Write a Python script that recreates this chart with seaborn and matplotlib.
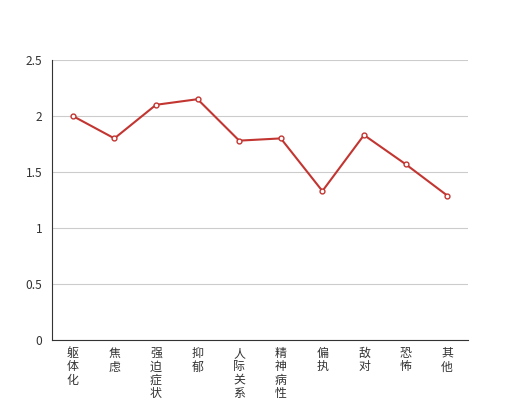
import matplotlib
matplotlib.use("Agg")
import matplotlib.pyplot as plt
from matplotlib.ticker import FixedLocator, FuncFormatter
import seaborn as sns

# --- data ---
categories = ["躯体化", "焦虑", "强迫症状", "抑郁", "人际关系敏感",
              "精神病性", "偏执", "敌对", "恐怖", "其他"]
scores = [2.0, 1.8, 2.1, 2.15, 1.78, 1.8, 1.33, 1.83, 1.57, 1.29]
y_ticks = [0, 0.5, 1, 1.5, 2, 2.5]

sns.set_style("white")
plt.rcParams["font.family"] = ["Noto Sans CJK SC", "DejaVu Sans"]

fig = plt.figure(figsize=(5.2, 4.0), dpi=100)
ax = fig.add_axes([52 / 520, 60 / 400, 416 / 520, 280 / 400])

line_color = "#c23531"
sns.lineplot(x=categories, y=scores, ax=ax, color=line_color, linewidth=1.5,
             marker="o", markersize=3.5, markerfacecolor="white",
             markeredgecolor=line_color, markeredgewidth=1.0, sort=False)

ax.set_xlim(-0.5, len(categories) - 0.5)
ax.set_ylim(0, 2.5)

# y axis
ax.yaxis.set_major_locator(FixedLocator(y_ticks))
ax.yaxis.set_major_formatter(FuncFormatter(lambda v, p: f"{v:g}"))
ax.grid(axis="y", color="#cccccc", linewidth=0.8)
ax.set_axisbelow(True)
ax.tick_params(axis="y", length=4, width=0.8, color="#333333",
               labelcolor="#333333", labelsize=8.6, pad=3)

# x axis: labels at centres, ticks at band boundaries
ax.set_xticks(range(len(categories)))
ax.set_xticklabels(["\n".join(c) for c in categories], linespacing=1.05,
                   va="top")
ax.tick_params(axis="x", length=0, labelcolor="#333333", labelsize=8.6, pad=5)
ax.xaxis.set_minor_locator(FixedLocator([i - 0.5 for i in range(len(categories) + 1)]))
ax.tick_params(axis="x", which="minor", length=4, width=0.8, color="#333333")

for s in ["top", "right"]:
    ax.spines[s].set_visible(False)
for s in ["left", "bottom"]:
    ax.spines[s].set_color("#333333")
    ax.spines[s].set_linewidth(0.8)

ax.set_xlabel("")
ax.set_ylabel("")

fig.savefig("out.png", dpi=100)
